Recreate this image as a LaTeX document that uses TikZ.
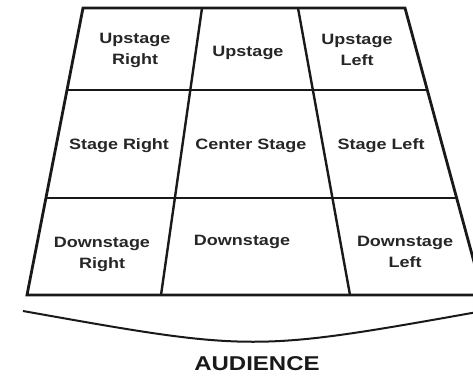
\documentclass[tikz,border=0pt]{standalone}
\usepackage{fontspec}
\setmainfont[FakeStretch=1.2]{Liberation Sans}
\usetikzlibrary{calc}
\begin{document}
\begin{tikzpicture}[x=1pt,y=-1pt,
  edge/.style={line width=2.8pt,draw=black!90,line join=miter},
  inner/.style={line width=2.4pt,draw=black!90},
  lbl/.style={font=\bfseries\fontsize{15}{21}\selectfont,text=black!85,align=center,inner sep=0pt},
  aud/.style={font=\bfseries\fontsize{20}{24}\selectfont,text=black!90,inner sep=0pt}]
\useasboundingbox (0,0) rectangle (473,375);
\clip (0,0) rectangle (473,375);
% outer trapezoid
\coordinate (TL) at (83,8);
\coordinate (TR) at (405,8);
\coordinate (BL) at (27,295);
\coordinate (BR) at (483,295);
% horizontal dividers
\coordinate (L1) at ($(TL)!0.2857!(BL)$);
\coordinate (R1) at ($(TR)!0.2857!(BR)$);
\coordinate (L2) at ($(TL)!0.6620!(BL)$);
\coordinate (R2) at ($(TR)!0.6620!(BR)$);
% vertical dividers
\coordinate (A1) at (202,8);
\coordinate (A2) at (161,295);
\coordinate (B1) at (298,8);
\coordinate (B2) at (350,295);
\draw[inner] (L1) -- (R1);
\draw[inner] (L2) -- (R2);
\draw[inner] (A1) -- (A2);
\draw[inner] (B1) -- (B2);
\draw[edge] (BL) -- (TL) -- (TR) -- (BR) -- cycle;
% audience arc
\coordinate (ArcL) at (23,311);
\coordinate (ArcC) at (253,352);
\coordinate (ArcR) at (483,311);
\draw[line width=2pt,black!90] (ArcL) .. controls (ArcC) .. (ArcR);
% labels
\node[lbl] (ur) at (135,50) {Upstage\\Right};
\node[lbl] (u) at (248,53) {Upstage};
\node[lbl] (ul) at (357,50) {Upstage\\Left};
\node[lbl] (sr) at (119,146) {Stage Right};
\node[lbl] (cs) at (251,146) {Center Stage};
\node[lbl] (sl) at (381,146) {Stage Left};
\node[lbl] (dr) at (102,254) {Downstage\\Right};
\node[lbl] (d) at (242,242) {Downstage};
\node[lbl] (dl) at (405,252) {Downstage\\Left};
\node[aud] (audience) at (257,364) {AUDIENCE};
\end{tikzpicture}
\end{document}
